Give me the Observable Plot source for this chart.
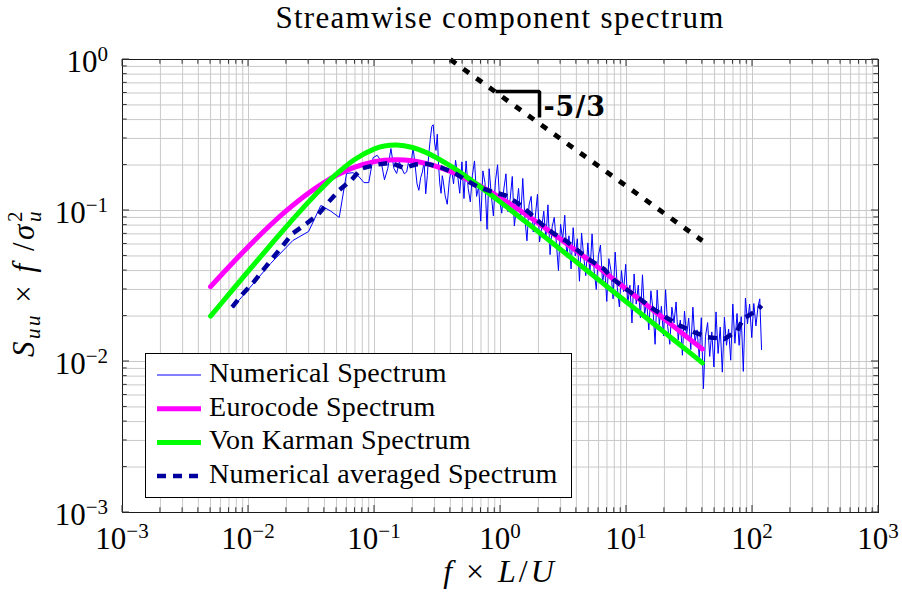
<!DOCTYPE html>
<html>
<head>
<meta charset="utf-8">
<script src="https://cdn.jsdelivr.net/npm/d3@7"></script>
<script src="https://cdn.jsdelivr.net/npm/@observablehq/plot@0.6"></script>
<style>
  html, body { margin: 0; padding: 0; background: #fff; }
  #chart svg { display: block; }
</style>
</head>
<body>
<div id="chart"></div>
<script>
// Normalised frequency f·L/U and spectral values S_uu·f/σ_u²

// Raw numerical spectrum (FFT bins, thinned at high frequency)
const numFreq = [
  0.0075,0.015,0.0225,0.03,0.0375,0.045,0.0525,0.06,0.0675,0.075,0.0825,0.09,0.0975,0.105,0.1125,0.12,
  0.1275,0.135,0.1425,0.15,0.1575,0.165,0.1725,0.18,0.1875,0.195,0.2025,0.21,0.2175,0.225,0.2325,0.24,
  0.2475,0.255,0.2625,0.27,0.2775,0.285,0.2925,0.3,0.3075,0.315,0.3225,0.33,0.3375,0.345,
  0.35,0.364,0.378,0.393,0.408,0.424,0.44,0.457,0.475,0.494,
  0.513,0.533,0.554,0.576,0.598,0.622,0.646,0.671,0.697,0.725,0.753,0.782,0.813,0.845,0.878,0.912,0.948,0.985,
  1.023,1.063,1.105,1.148,1.193,1.24,1.288,1.339,1.391,1.446,1.502,1.561,1.622,1.685,1.751,1.82,1.891,1.965,
  2.042,2.122,2.205,2.291,2.38,2.474,2.57,2.671,2.775,2.884,2.997,3.114,3.236,3.362,3.494,3.631,3.773,3.92,4.074,4.233,4.399,4.571,4.75,4.936,
  5.129,5.33,5.538,5.755,5.98,6.214,6.457,6.71,6.972,7.245,7.529,7.823,8.13,8.448,8.778,9.122,9.479,9.85,
  10.24,10.64,11.05,11.49,11.94,12.4,12.89,13.39,13.92,14.46,15.03,15.62,16.23,16.86,17.52,18.21,18.92,19.66,
  20.43,21.23,22.06,22.92,23.82,24.75,25.72,26.73,27.77,28.86,29.99,31.16,32.38,33.65,34.97,36.34,37.76,39.24,
  40.77,42.37,44.03,45.75,47.54,49.4,51.33,53.34,55.43,57.6,59.85,62.19,64.63,67.16,69.79,72.52,75.36,78.31,
  81.37,84.56,87.87,91.31,94.88,98.59,102.4,106.5,110.6,114.2,118
];
const numValue = [
  0.0228,0.0446,0.0633,0.0726,0.108,0.099,0.090,0.176,0.178,0.168,0.153,0.153,0.224,0.232,0.214,0.160,
  0.19,0.257,0.19,0.176,0.21,0.19,0.175,0.18,0.215,0.205,0.26,0.20,0.15,0.136,0.165,0.18,
  0.21,0.129,0.17,0.24,0.30,0.36,0.37,0.28,0.25,0.32,0.20,0.15,0.13,0.17,
  0.16,0.125,0.11,0.16,0.19,0.15,0.215,0.17,0.13,0.21,
  0.12,0.213,0.140,0.114,0.171,0.213,0.124,0.144,0.085,0.183,0.153,0.075,0.189,0.127,0.092,0.157,0.201,0.116,
  0.096,0.139,0.175,0.098,0.119,0.168,0.079,0.105,0.140,0.089,0.163,0.089,0.063,0.109,0.124,0.072,0.092,0.128,
  0.062,0.077,0.099,0.065,0.109,0.051,0.078,0.090,0.061,0.040,0.081,0.064,0.093,0.049,0.068,0.041,0.077,0.050,0.065,0.034,0.071,0.050,0.037,0.061,
  0.039,0.070,0.040,0.030,0.050,0.059,0.033,0.042,0.025,0.048,0.040,0.026,0.053,0.031,0.023,0.040,0.029,0.044,
  0.024,0.032,0.018,0.038,0.024,0.032,0.0195,0.0375,0.0204,0.025,0.0162,0.0294,0.022,0.013,0.0297,0.0175,0.0232,0.0148,
  0.0299,0.0171,0.013,0.0229,0.018,0.0248,0.0139,0.0188,0.011,0.0216,0.0148,0.0194,0.012,0.0229,0.0133,0.0162,0.0106,0.0195,
  0.0066,0.0147,0.0181,0.0108,0.0157,0.0092,0.0213,0.0113,0.0169,0.0085,0.0197,0.0128,0.0164,0.0102,0.024,0.0132,0.0208,0.0128,
  0.0198,0.0086,0.0263,0.0178,0.024,0.0144,0.0242,0.0172,0.0231,0.026,0.012
];

// Band-averaged numerical spectrum
const avgFreq = [
  0.00742,0.00891,0.01082,0.01299,0.01559,0.01872,0.02222,0.0287,0.03574,0.0429,0.05208,0.06571,0.07883,
  0.1018,0.134,0.1708,0.2116,0.262,0.3341,0.4338,0.5374,0.6533,0.8328,1.096,1.372,1.708,2.077,2.62,3.281,
  4.108,5.18,6.604,7.929,10.13,12.75,16.29,20.77,26.49,34.65,44.19,59.95,75.6,84.36,109,117.9
];
const avgValue = [
  0.0229,0.0278,0.0330,0.0401,0.0486,0.0584,0.0701,0.0816,0.0941,0.113,0.1357,0.1597,0.1897,
  0.2008,0.207,0.1917,0.2017,0.2038,0.1935,0.1766,0.158,0.1442,0.1342,0.1257,0.1118,0.096,0.0824,0.0707,0.0633,
  0.0543,0.0467,0.0411,0.0348,0.0298,0.026,0.0223,0.0195,0.0173,0.0156,0.0145,0.0141,0.016,0.0192,0.0218,0.0235
];

// Target spectra, sampled on a common frequency list
const modelFreq = [0.005,0.007,0.01,0.015,0.02,0.03,0.04,0.05,0.07,0.1,0.12,0.15,0.2,0.25,0.3,0.4,0.5,0.7,1,1.5,2,3,5,7,10,15,20,30,40];
const eurocodeValue = [0.0313,0.0424,0.0578,0.0805,0.0998,0.1307,0.1538,0.1711,0.1939,0.2107,0.2154,0.2171,0.2132,0.2058,0.1974,0.1812,0.1670,0.1445,0.1213,0.0973,0.0824,0.0646,0.0470,0.0379,0.0301,0.0231,0.0191,0.0146,0.0121];
const vonKarmanValue = [0.0200,0.0279,0.0398,0.0592,0.0782,0.1140,0.1463,0.1746,0.2185,0.2561,0.2672,0.2712,0.2612,0.2443,0.2271,0.1973,0.1742,0.1423,0.1136,0.0872,0.0722,0.0552,0.0393,0.0314,0.0248,0.0189,0.0156,0.0119,0.0098];

// Inertial-range reference slope and its marker
const slopeFreq = [0.4, 40];
const slopeValue = [1.0, 0.063];
const markerFreq = [0.913, 2.04, 2.04];
const markerValue = [0.614, 0.614, 0.413];
const slopeNote = [{f: 2.19, v: 0.481, label: "-5/3"}];

// Axis decades and legend entries
const xDecades = [-3, -2, -1, 0, 1, 2, 3];
const yDecades = [-3, -2, -1, 0];
const legendLabels = ["Numerical Spectrum", "Eurocode Spectrum", "Von Karman Spectrum", "Numerical averaged Spectrum"];

if (numFreq.length !== numValue.length) throw new Error("numerical spectrum length mismatch");

const pairs = (fs, vs) => fs.map((f, i) => ({f, v: vs[i]}));
const numerical = pairs(numFreq, numValue);
const averaged = pairs(avgFreq, avgValue);
const eurocode = pairs(modelFreq, eurocodeValue);
const vonKarman = pairs(modelFreq, vonKarmanValue);
const slope = pairs(slopeFreq, slopeValue);
const marker = pairs(markerFreq, markerValue);

const multiples = [1, 2, 3, 4, 5, 6, 7, 8, 9];
const gridOf = (decades) => decades.slice(0, -1).flatMap(d => multiples.map(m => m * 10 ** d)).concat(10 ** decades[decades.length - 1]);
const xGrid = gridOf(xDecades);
const yGrid = gridOf(yDecades);

const styles = {
  numerical: {stroke: "#0000ff", strokeWidth: 1},
  eurocode: {stroke: "#ff00ff", strokeWidth: 5},
  vonKarman: {stroke: "#00ff00", strokeWidth: 5},
  averaged: {stroke: "#00009e", strokeWidth: 4.5, strokeDasharray: "9,7"}
};

const serif = "'Liberation Serif', 'Times New Roman', serif";

const chart = Plot.plot({
  width: 902,
  height: 598,
  marginLeft: 122,
  marginRight: 24,
  marginTop: 59,
  marginBottom: 86,
  style: {background: "white", fontFamily: serif},
  x: {type: "log", domain: [1e-3, 1e3], axis: null},
  y: {type: "log", domain: [1e-3, 1], axis: null},
  marks: [
    Plot.ruleX(xGrid, {stroke: "#c9c9c9", strokeWidth: 1}),
    Plot.ruleY(yGrid, {stroke: "#c9c9c9", strokeWidth: 1}),
    Plot.line(numerical, {x: "f", y: "v", ...styles.numerical, strokeLinejoin: "round"}),
    Plot.line(eurocode, {x: "f", y: "v", ...styles.eurocode, curve: "catmull-rom"}),
    Plot.line(vonKarman, {x: "f", y: "v", ...styles.vonKarman, curve: "catmull-rom"}),
    Plot.line(averaged, {x: "f", y: "v", ...styles.averaged, strokeLinecap: "butt"}),
    Plot.line(slope, {x: "f", y: "v", stroke: "black", strokeWidth: 4.8, strokeDasharray: "7,9", strokeLinecap: "butt"}),
    Plot.line(marker, {x: "f", y: "v", stroke: "black", strokeWidth: 3.5, strokeLinejoin: "miter", strokeLinecap: "butt"}),
    Plot.text(slopeNote, {x: "f", y: "v", text: "label", textAnchor: "start", fontSize: 27, fontWeight: "bold", fontFamily: "'DejaVu Serif', serif", fill: "black"}),
    Plot.frame({stroke: "#1a1a1a", strokeWidth: 1})
  ]
});

document.getElementById("chart").appendChild(chart);

const X = chart.scale("x");
const Y = chart.scale("y");
const frameLeft = X.apply(1e-3), frameRight = X.apply(1e3);
const frameBottom = Y.apply(1e-3), frameTop = Y.apply(1);
const svg = d3.select(chart);

// White box behind the slope annotation
const noteText = svg.select('g[aria-label="text"] text');
if (!noteText.empty()) {
  noteText.attr("letter-spacing", 1);
  const b = noteText.node().getBBox();
  d3.select(noteText.node().parentNode).insert("rect", "text")
    .attr("x", b.x - 2).attr("y", b.y + 1).attr("width", b.width + 2).attr("height", b.height - 2)
    .attr("fill", "white");
}

// Inward ticks on all four sides
const ticks = svg.append("g").attr("stroke", "#333").attr("stroke-width", 1);
const isMajor = v => Math.abs(Math.log10(v) - Math.round(Math.log10(v))) < 1e-9;
for (const v of xGrid) {
  const px = X.apply(v), len = isMajor(v) ? 7 : 4.7;
  ticks.append("line").attr("x1", px).attr("x2", px).attr("y1", frameBottom).attr("y2", frameBottom - len);
  ticks.append("line").attr("x1", px).attr("x2", px).attr("y1", frameTop).attr("y2", frameTop + len);
}
for (const v of yGrid) {
  const py = Y.apply(v), len = isMajor(v) ? 7 : 4.7;
  ticks.append("line").attr("y1", py).attr("y2", py).attr("x1", frameLeft).attr("x2", frameLeft + len);
  ticks.append("line").attr("y1", py).attr("y2", py).attr("x1", frameRight).attr("x2", frameRight - len);
}

// Tick labels as powers of ten
const labels = svg.append("g").attr("font-family", serif).attr("fill", "black");
const power = (exp, x, y, anchor) => {
  const t = labels.append("text").attr("x", x).attr("y", y).attr("text-anchor", anchor).attr("font-size", 31);
  t.append("tspan").text("10");
  t.append("tspan").attr("font-size", 21).attr("dy", -11).text(exp < 0 ? "\u2212" + (-exp) : String(exp));
};
for (const d of xDecades) power(d, X.apply(10 ** d), frameBottom + 37, "middle");
for (const d of yDecades) power(d, frameLeft - 14, Y.apply(10 ** d) + 13, "end");

// Title
labels.append("text")
  .attr("x", (frameLeft + frameRight) / 2).attr("y", 28)
  .attr("text-anchor", "middle").attr("font-size", 31).attr("letter-spacing", 1.3)
  .text("Streamwise component spectrum");

// Axis titles
const xt = labels.append("text").attr("x", (frameLeft + frameRight) / 2).attr("y", 582)
  .attr("text-anchor", "middle").attr("font-size", 32).attr("letter-spacing", 3);
xt.append("tspan").attr("font-style", "italic").text("f");
xt.append("tspan").text(" \u00d7 ");
xt.append("tspan").attr("font-style", "italic").text("L");
xt.append("tspan").text("/");
xt.append("tspan").attr("font-style", "italic").text("U");

const yt = labels.append("text").attr("transform", `translate(34,283) rotate(-90)`)
  .attr("text-anchor", "middle").attr("font-size", 31).attr("letter-spacing", 2.5);
yt.append("tspan").attr("font-style", "italic").text("S");
yt.append("tspan").attr("font-style", "italic").attr("font-size", 21).attr("dy", 6).text("uu");
yt.append("tspan").attr("dy", -6).text(" \u00d7 ");
yt.append("tspan").attr("font-style", "italic").text("f");
yt.append("tspan").text(" /");
yt.append("tspan").attr("font-style", "italic").text("\u03c3");
yt.append("tspan").attr("font-style", "italic").attr("font-size", 21).attr("dy", 7).text("u");
yt.append("tspan").attr("font-size", 21).attr("dx", -13).attr("dy", -19).text("2");

// Legend box
const legend = svg.append("g").attr("font-family", serif);
legend.append("rect").attr("x", 145.5).attr("y", 353.5).attr("width", 426).attr("height", 144)
  .attr("fill", "white").attr("stroke", "black").attr("stroke-width", 1);
const legendStyles = [styles.numerical, styles.eurocode, styles.vonKarman, styles.averaged];
legendLabels.forEach((label, i) => {
  const base = 382 + i * 33.7;
  const s = legendStyles[i];
  legend.append("line").attr("x1", 157).attr("x2", 201).attr("y1", base - 7).attr("y2", base - 7)
    .attr("stroke", s.stroke).attr("stroke-width", s.strokeWidth)
    .attr("stroke-dasharray", s.strokeDasharray || null);
  legend.append("text").attr("x", 209).attr("y", base).attr("text-anchor", "start")
    .attr("font-size", 28).attr("letter-spacing", 0.3)
    .attr("fill", "black").text(label);
});
</script>
</body>
</html>
